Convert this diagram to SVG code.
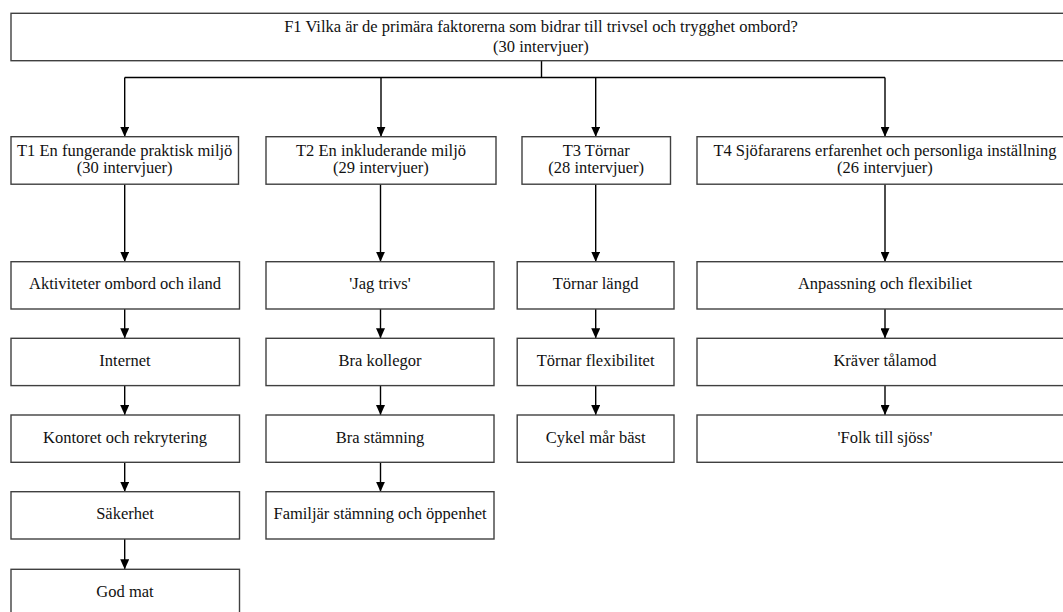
<svg xmlns="http://www.w3.org/2000/svg" width="1063" height="612" viewBox="0 0 1063 612">
<style>
.box{fill:#fff;stroke:#404040;stroke-width:1.4}
.t{font-size:16.5px;fill:#111;text-anchor:middle}
.c{fill:none;stroke:#000;stroke-width:1.4}
</style>
<defs>
<marker id="ah" viewBox="0 0 10 9" refX="10" refY="4.5" markerWidth="10" markerHeight="9" markerUnits="userSpaceOnUse" orient="auto">
<path d="M0,0 L10,4.5 L0,9 z" fill="#000"/>
</marker>
</defs>
<rect width="1063" height="612" fill="#fff"/>
<g id="connectors">
<path class="c" d="M541.5,60.7 V77.5 M124.7,77.5 H885"/>
<path class="c" marker-end="url(#ah)" d="M124.7,77.5 V136.7"/>
<path class="c" marker-end="url(#ah)" d="M381,77.5 V136.7"/>
<path class="c" marker-end="url(#ah)" d="M595.7,77.5 V136.7"/>
<path class="c" marker-end="url(#ah)" d="M885,77.5 V136.7"/>
<path class="c" marker-end="url(#ah)" d="M124.7,184.2 V261.7"/>
<path class="c" marker-end="url(#ah)" d="M380.5,184.2 V261.7"/>
<path class="c" marker-end="url(#ah)" d="M595.7,184.2 V261.7"/>
<path class="c" marker-end="url(#ah)" d="M885,184.2 V261.7"/>
<path class="c" marker-end="url(#ah)" d="M124.7,309 V338.3"/>
<path class="c" marker-end="url(#ah)" d="M124.7,385.6 V415"/>
<path class="c" marker-end="url(#ah)" d="M124.7,462.3 V491.7"/>
<path class="c" marker-end="url(#ah)" d="M124.7,539 V569.3"/>
<path class="c" marker-end="url(#ah)" d="M380.5,309 V338.3"/>
<path class="c" marker-end="url(#ah)" d="M380.5,385.6 V415"/>
<path class="c" marker-end="url(#ah)" d="M380.5,462.3 V491.7"/>
<path class="c" marker-end="url(#ah)" d="M595.7,309 V338.3"/>
<path class="c" marker-end="url(#ah)" d="M595.7,385.6 V415"/>
<path class="c" marker-end="url(#ah)" d="M885,309 V338.3"/>
<path class="c" marker-end="url(#ah)" d="M885,385.6 V415"/>
</g>
<g font-family="'Liberation Serif', 'DejaVu Serif', serif">
<g id="F1"><rect class="box" x="11" y="13.3" width="1062" height="47.4"/>
<text class="t" x="541" y="31.5">F1 Vilka är de primära faktorerna som bidrar till trivsel och trygghet ombord?</text>
<text class="t" x="541" y="52">(30 intervjuer)</text></g>
<g id="T1"><rect class="box" x="11" y="136.7" width="227.5" height="47.5"/>
<text class="t" x="124.7" y="155.7">T1 En fungerande praktisk miljö</text>
<text class="t" x="124.7" y="173">(30 intervjuer)</text></g>
<g id="T2"><rect class="box" x="266" y="136.7" width="230" height="47.5"/>
<text class="t" x="381" y="155.7">T2 En inkluderande miljö</text>
<text class="t" x="381" y="173">(29 intervjuer)</text></g>
<g id="T3"><rect class="box" x="522" y="136.7" width="148.5" height="47.5"/>
<text class="t" x="596.2" y="155.7">T3 Törnar</text>
<text class="t" x="596.2" y="173">(28 intervjuer)</text></g>
<g id="T4"><rect class="box" x="697" y="136.7" width="376" height="47.5"/>
<text class="t" x="885" y="155.7">T4 Sjöfararens erfarenhet och personliga inställning</text>
<text class="t" x="885" y="173">(26 intervjuer)</text></g>
<g id="A1"><rect class="box" x="11" y="261.7" width="228.5" height="47.3"/><text class="t" x="125" y="289.3">Aktiviteter ombord och iland</text></g>
<g id="A2"><rect class="box" x="11" y="338.3" width="228.5" height="47.3"/><text class="t" x="125" y="365.9">Internet</text></g>
<g id="A3"><rect class="box" x="11" y="415" width="228.5" height="47.3"/><text class="t" x="125" y="442.6">Kontoret och rekrytering</text></g>
<g id="A4"><rect class="box" x="11" y="491.7" width="228.5" height="47.3"/><text class="t" x="125" y="519.3">Säkerhet</text></g>
<g id="A5"><rect class="box" x="11" y="569.3" width="228.5" height="47.3"/><text class="t" x="125" y="596.9">God mat</text></g>
<g id="B1"><rect class="box" x="266" y="261.7" width="228" height="47.3"/><text class="t" x="380" y="289.3">'Jag trivs'</text></g>
<g id="B2"><rect class="box" x="266" y="338.3" width="228" height="47.3"/><text class="t" x="380" y="365.9">Bra kollegor</text></g>
<g id="B3"><rect class="box" x="266" y="415" width="228" height="47.3"/><text class="t" x="380" y="442.6">Bra stämning</text></g>
<g id="B4"><rect class="box" x="266" y="491.7" width="228" height="47.3"/><text class="t" x="380" y="519.3">Familjär stämning och öppenhet</text></g>
<g id="C1"><rect class="box" x="517.2" y="261.7" width="156.8" height="47.3"/><text class="t" x="595.6" y="289.3">Törnar längd</text></g>
<g id="C2"><rect class="box" x="517.2" y="338.3" width="156.8" height="47.3"/><text class="t" x="595.6" y="365.9">Törnar flexibilitet</text></g>
<g id="C3"><rect class="box" x="517.2" y="415" width="156.8" height="47.3"/><text class="t" x="595.6" y="442.6">Cykel mår bäst</text></g>
<g id="D1"><rect class="box" x="697" y="261.7" width="376" height="47.3"/><text class="t" x="885" y="289.3">Anpassning och flexibiliet</text></g>
<g id="D2"><rect class="box" x="697" y="338.3" width="376" height="47.3"/><text class="t" x="885" y="365.9">Kräver tålamod</text></g>
<g id="D3"><rect class="box" x="697" y="415" width="376" height="47.3"/><text class="t" x="885" y="442.6">'Folk till sjöss'</text></g>
</g>
</svg>
